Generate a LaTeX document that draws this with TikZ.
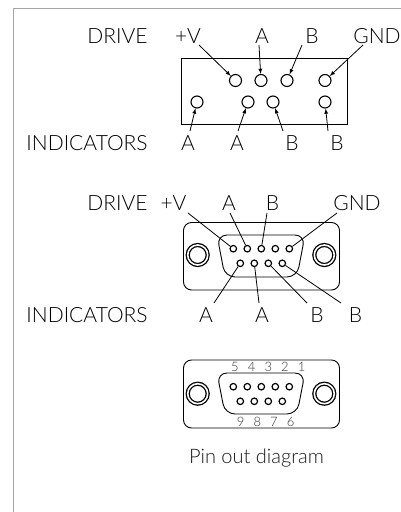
\documentclass[tikz,border=0pt]{standalone}
\usepackage{fontspec}
\setmainfont{Lato Light}
\usetikzlibrary{positioning,arrows}

\tikzset{
  lbl/.style={font=\fontsize{21}{21}\selectfont, text=black, inner sep=0pt},
  numlbl/.style={font=\fontsize{13}{13}\selectfont, text=black!80, inner sep=0pt},
  pinbig/.style={circle, draw, line width=1.1pt, minimum size=12pt, inner sep=0pt},
  pinsmall/.style={circle, draw, line width=1.2pt, minimum size=6.5pt, inner sep=0pt},
  screw/.style={circle, draw, line width=1.3pt, double, double distance=1.6pt, minimum size=20pt, inner sep=0pt},
  shell/.style={draw, line width=0.9pt, rounded corners=8pt},
  dbody/.style={draw, line width=0.9pt, rounded corners=10pt}
}

\begin{document}
\begin{tikzpicture}[x=1pt, y=-1pt, >=latex, line width=0.8pt,
      node distance=14pt, on grid]
  \useasboundingbox (0,0) rectangle (401,512);
  % frame
  \draw[black!35, line width=1pt] (13,512) -- (13,8.5) -- (401,8.5);

  % header block
  \draw[line width=0.9pt] (181.5,58.5) rectangle (347,124.5);
  \node[lbl, anchor=east] (drive_a) at (148,36) {DRIVE};
  \node[lbl] (v_a)   at (188,36)  {+V};
  \node[lbl] (a1_a)  at (262,36)  {A};
  \node[lbl] (b1_a)  at (312,36)  {B};
  \node[lbl] (gnd_a) at (377,36)  {GND};
  \node[lbl, anchor=east] (ind_a) at (148,143) {INDICATORS};
  \node[lbl] (a2_a)  at (188,143) {A};
  \node[lbl] (a3_a)  at (237,143) {A};
  \node[lbl] (b2_a)  at (292,143) {B};
  \node[lbl] (b3_a)  at (337,143) {B};

  \node[pinbig] (t_1) at (235.5,80.5) {};
  \node[pinbig] (t_2) at (261,80.5) {};
  \node[pinbig] (t_3) at (287,80.5) {};
  \node[pinbig] (t_4) at (325,80.5) {};
  \node[pinbig] (u_1) at (197,102) {};
  \node[pinbig] (u_2) at (248,102) {};
  \node[pinbig] (u_3) at (273,102) {};
  \node[pinbig] (u_4) at (325,102) {};

  \path[->]
    ([xshift=11pt,yshift=-9pt]v_a.center) edge (t_1)
    ([xshift=-3pt,yshift=-9pt]a1_a.center) edge (t_2)
    ([xshift=-10pt,yshift=-9pt]b1_a.center) edge (t_3)
    ([xshift=-14pt,yshift=-9pt]gnd_a.center) edge (t_4)
    ([xshift=2pt,yshift=12pt]a2_a.center) edge (u_1)
    ([xshift=1pt,yshift=12pt]a3_a.center) edge (u_2)
    ([xshift=-9pt,yshift=12pt]b2_a.center) edge (u_3)
    ([xshift=-9pt,yshift=12pt]b3_a.center) edge (u_4)
    ;

  % wired connector
  \draw[shell] (183.5,222.5) rectangle (339.5,290);
  \draw[dbody] (217,235) -- (305,235) -- (297,277) -- (225,277) -- cycle;
  \node[screw] (s_l) at (197.7,255) {};
  \node[screw] (s_r) at (324.3,255) {};
  \node[lbl, anchor=east] (drive_b) at (148,203) {DRIVE};
  \node[lbl] (v_b)   at (173.5,203) {+V};
  \node[lbl] (a1_b)  at (229,203) {A};
  \node[lbl] (b1_b)  at (272.5,203) {B};
  \node[lbl] (gnd_b) at (357,203) {GND};
  \node[lbl, anchor=east] (ind_b) at (148,315) {INDICATORS};
  \node[lbl] (a2_b)  at (206,315) {A};
  \node[lbl] (a3_b)  at (262,315) {A};
  \node[lbl] (b2_b)  at (317,315) {B};
  \node[lbl] (b3_b)  at (355.5,315) {B};

  \node[pinsmall] (m_1) at (233.3,248.7) {};
  \node[pinsmall] (m_2) [right=of m_1] {};
  \node[pinsmall] (m_3) [right=of m_2] {};
  \node[pinsmall] (m_4) [right=of m_3] {};
  \node[pinsmall] (m_5) [right=of m_4] {};
  \node[pinsmall] (m_6) at (240.3,263.3) {};
  \node[pinsmall] (m_7) [right=of m_6] {};
  \node[pinsmall] (m_8) [right=of m_7] {};
  \node[pinsmall] (m_9) [right=of m_8] {};

  \path
    ([xshift=14.5pt,yshift=-10pt]v_b.center) edge (m_1)
    ([xshift=1pt,yshift=-10pt]a1_b.center) edge (m_2)
    ([xshift=-5.5pt,yshift=-10pt]b1_b.center) edge (m_3)
    ([xshift=-20pt,yshift=-10pt]gnd_b.center) edge (m_5)
    ([xshift=8pt,yshift=12pt]a2_b.center) edge (m_6)
    ([xshift=-3pt,yshift=12pt]a3_b.center) edge (m_7)
    ([xshift=-10pt,yshift=12pt]b2_b.center) edge (m_8)
    ([xshift=-14.5pt,yshift=12pt]b3_b.center) edge (m_9)
    ;

  % numbered connector
  \draw[shell] (183.5,360) rectangle (339.5,428);
  \draw[dbody] (217,373) -- (305,373) -- (297,414) -- (225,414) -- cycle;
  \node[screw] (s_l2) at (197.7,393.7) {};
  \node[screw] (s_r2) at (324.3,393.7) {};
  \node[pinsmall] (n_1) at (233.3,386.7) {};
  \node[pinsmall] (n_2) [right=of n_1] {};
  \node[pinsmall] (n_3) [right=of n_2] {};
  \node[pinsmall] (n_4) [right=of n_3] {};
  \node[pinsmall] (n_5) [right=of n_4] {};
  \node[pinsmall] (n_6) at (240.3,401.3) {};
  \node[pinsmall] (n_7) [right=of n_6] {};
  \node[pinsmall] (n_8) [right=of n_7] {};
  \node[pinsmall] (n_9) [right=of n_8] {};

  \node[numlbl] (num_5) at (235,366.5) {5};
  \node[numlbl] (num_4) at (251.7,366.5) {4};
  \node[numlbl] (num_3) at (268.3,366.5) {3};
  \node[numlbl] (num_2) at (285,366.5) {2};
  \node[numlbl] (num_1) at (301.7,366.5) {1};
  \node[numlbl] (num_9) at (240.7,421.5) {9};
  \node[numlbl] (num_8) at (257.3,421.5) {8};
  \node[numlbl] (num_7) at (274,421.5) {7};
  \node[numlbl] (num_6) at (290.7,421.5) {6};

  \node[font=\fontsize{20}{20}\selectfont, text=black!90, inner sep=0pt] (cap) at (256.5,458) {Pin out diagram};
\end{tikzpicture}
\end{document}
